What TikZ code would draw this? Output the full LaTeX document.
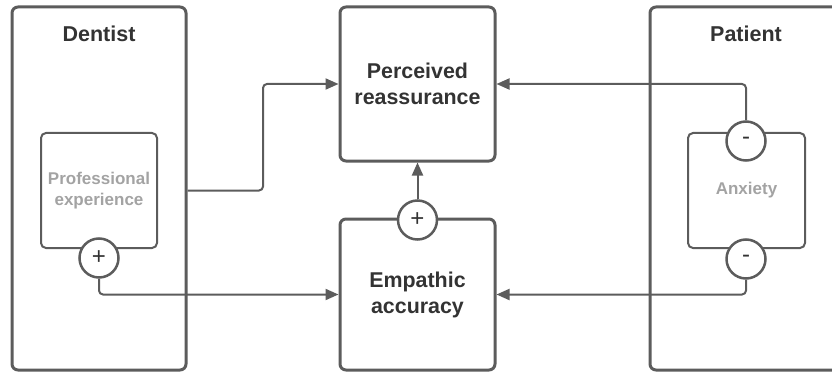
\documentclass[tikz,border=0pt]{standalone}
\usepackage{fontspec}
\setmainfont{Liberation Sans}
\usetikzlibrary{arrows.meta,positioning}
\definecolor{lnligne}{HTML}{5C5C5C}
\definecolor{lntexte}{HTML}{333333}
\definecolor{lnpale}{HTML}{A3A3A3}

\begin{document}
\begin{tikzpicture}[x=1pt,y=-1pt,
  actorbox/.style={draw=lnligne,line width=3pt,rounded corners=6pt,minimum width=#1,minimum height=363pt},
  varbox/.style={draw=lnligne,line width=3pt,rounded corners=6pt,minimum width=155pt,text=lntexte,align=center,
    font=\fontsize{21.4}{26}\selectfont\bfseries},
  factorbox/.style={draw=lnligne,line width=2pt,rounded corners=5pt,minimum width=#1,minimum height=115pt,
    text=lnpale,align=center},
  signcirc/.style={circle,draw=lnligne,line width=2.5pt,fill=white,minimum size=39pt,inner sep=0pt,text=lntexte,
    font=\fontsize{24}{24}\selectfont},
  titre/.style={text=lntexte,font=\fontsize{21.5}{24}\selectfont\bfseries},
  conn/.style={draw=lnligne,line width=2pt,rounded corners=4pt,-{Triangle[length=13pt,width=11pt]}}]
  \useasboundingbox (0,0) rectangle (832,377);
  % acteurs
  \node[actorbox=174pt] (dentist) at (99,188.5) {};
  \node[actorbox=195pt] (patient) at (747.5,188.5) {};
  \node[titre] (dentlab) at (99,34) {Dentist};
  \node[titre] (patlab) at (746,34) {Patient};
  % facteurs
  \node[factorbox=116pt,font=\fontsize{17}{21}\selectfont\bfseries] (prof) at (99,190.5) {Professional\\experience};
  \node[factorbox=117pt,font=\fontsize{17}{20}\selectfont\bfseries] (anx) at (746.5,190.5) {Anxiety};
  % variables
  \node[varbox,minimum height=154pt] (perc) at (417.5,84) {Perceived\\reassurance};
  \node[varbox,minimum height=151pt] (empa) at (417.5,294.5) {Empathic\\accuracy};
  \coordinate (coude) at (263,0);
  % signes
  \node[signcirc] (plusA) at (99,258) {+};
  \node[signcirc] (plusB) at (417.5,220) {+};
  \node[signcirc] (minusA) at (746,141) {-};
  \node[signcirc] (minusB) at (746,259) {-};
  % liens
  \draw[conn] (dentist.east |- prof.center) -| (coude |- perc.west) -- (perc.west);
  \draw[conn] (plusA.south) |- (empa.west);
  \draw[conn] (plusB.north) -- (perc.south);
  \draw[conn] (minusA.north) |- (perc.east);
  \draw[conn] (minusB.south) |- (empa.east);
\end{tikzpicture}
\end{document}
